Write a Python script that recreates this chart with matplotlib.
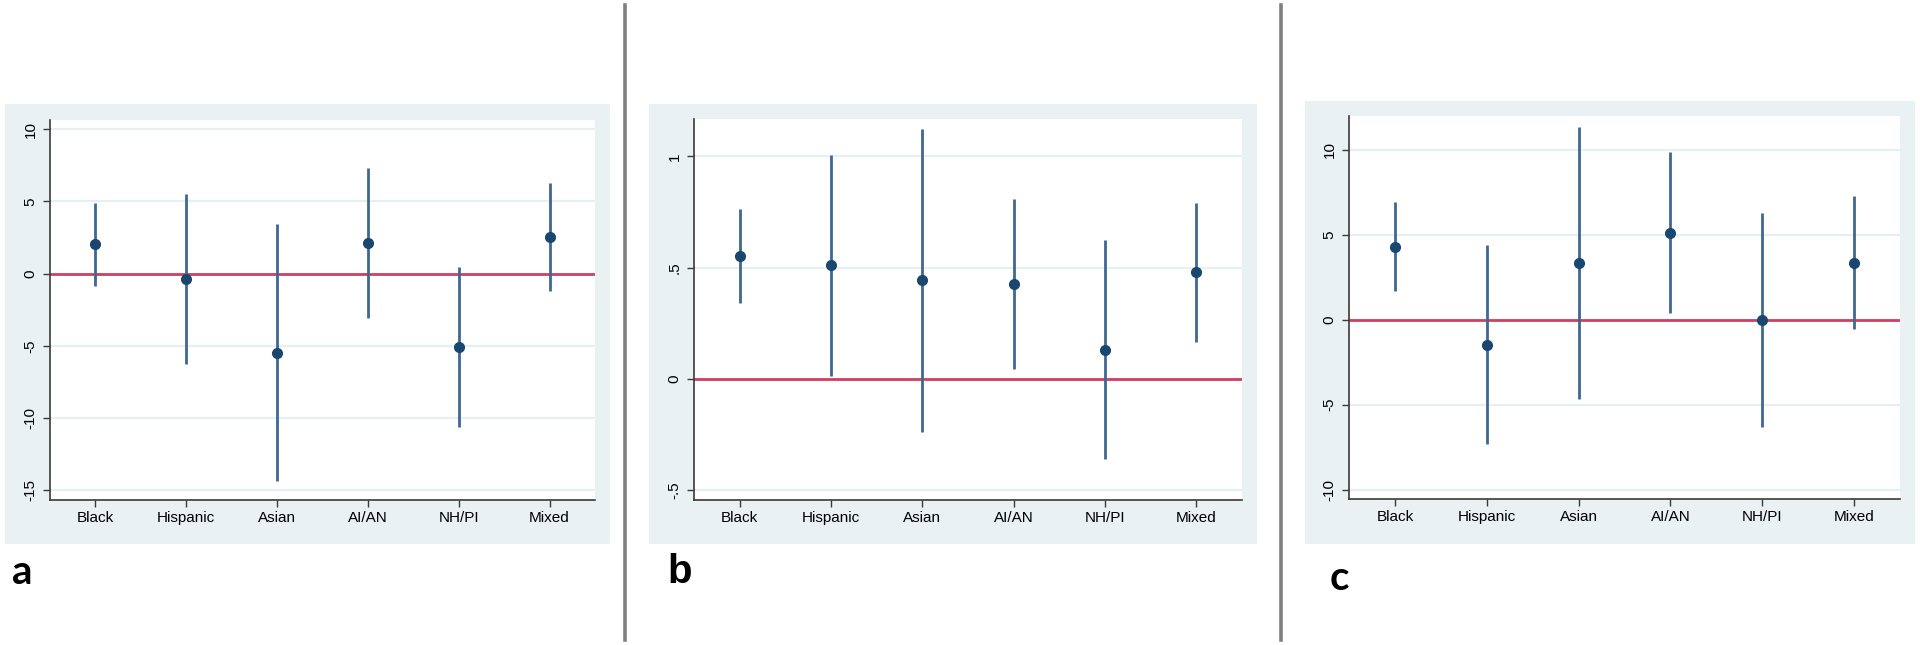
import matplotlib
matplotlib.use("Agg")
import matplotlib.pyplot as plt
from matplotlib.patches import Rectangle
from matplotlib.lines import Line2D

categories = ["Black", "Hispanic", "Asian", "AI/AN", "NH/PI", "Mixed"]

a_est = [2.06, -0.39, -5.47, 2.10, -5.05, 2.54]
a_lo = [-0.83, -6.25, -14.36, -3.09, -10.64, -1.20]
a_hi = [4.92, 5.50, 3.44, 7.30, 0.48, 6.26]
a_ticks = [-15, -10, -5, 0, 5, 10]
a_ticklabels = ["-15", "-10", "-5", "0", "5", "10"]

b_est = [0.551, 0.511, 0.443, 0.427, 0.132, 0.479]
b_lo = [0.340, 0.015, -0.237, 0.045, -0.361, 0.166]
b_hi = [0.762, 1.007, 1.124, 0.808, 0.623, 0.790]
b_ticks = [-0.5, 0, 0.5, 1]
b_ticklabels = ["-.5", "0", ".5", "1"]

c_est = [4.31, -1.47, 3.35, 5.14, 0.0, 3.37]
c_lo = [1.69, -7.31, -4.67, 0.43, -6.33, -0.55]
c_hi = [6.92, 4.43, 11.37, 9.88, 6.29, 7.29]
c_ticks = [-10, -5, 0, 5, 10]
c_ticklabels = ["-10", "-5", "0", "5", "10"]

panel_letters = ["a", "b", "c"]

W, H = 1920, 645
fig = plt.figure(figsize=(W / 100, H / 100), dpi=100)
fig.patch.set_facecolor("white")

BOX = "#E9F1F3"
GRID = "#E6EFF2"
NAVY = "#1A476F"
LINE = "#3F6890"
RED = "#D0405F"

panels = [
    dict(est=a_est, lo=a_lo, hi=a_hi, ticks=a_ticks, tl=a_ticklabels,
         box=(5, 610, 104, 544), plot=(50, 595, 120, 500), ylim=(-15.67, 10.64),
         letter=(22, 572), lfam="Lato"),
    dict(est=b_est, lo=b_lo, hi=b_hi, ticks=b_ticks, tl=b_ticklabels,
         box=(649, 1257, 104, 544), plot=(694, 1242, 119, 500), ylim=(-0.543, 1.1675),
         letter=(680, 572), lfam="Liberation Sans"),
    dict(est=c_est, lo=c_lo, hi=c_hi, ticks=c_ticks, tl=c_ticklabels,
         box=(1305, 1915, 101, 544), plot=(1349, 1900, 116, 499), ylim=(-10.55, 12.0),
         letter=(1339, 578), lfam="Lato"),
]

for p, letter in zip(panels, panel_letters):
    bx0, bx1, by0, by1 = p["box"]
    fig.patches.append(Rectangle((bx0 / W, 1 - by1 / H), (bx1 - bx0) / W, (by1 - by0) / H,
                                 transform=fig.transFigure, facecolor=BOX,
                                 edgecolor="none", zorder=-5))
    px0, px1, py0, py1 = p["plot"]
    ax = fig.add_axes([px0 / W, 1 - py1 / H, (px1 - px0) / W, (py1 - py0) / H])
    ax.set_zorder(1)
    ax.set_facecolor("white")
    x = list(range(1, len(categories) + 1))
    for t in p["ticks"]:
        ax.axhline(t, color=GRID, lw=1.6, zorder=1)
    ax.axhline(0, color=RED, lw=2.0, zorder=2)
    ax.vlines(x, p["lo"], p["hi"], color=LINE, lw=2.0, zorder=3)
    ax.plot(x, p["est"], "o", color=NAVY, ms=7, zorder=4)
    ax.set_xlim(0.5, 6.5)
    ax.set_ylim(*p["ylim"])
    ax.set_xticks(x)
    ax.set_xticklabels(categories, fontsize=11, family="Liberation Sans")
    ax.set_yticks(p["ticks"])
    ax.set_yticklabels(p["tl"], fontsize=11, family="Liberation Sans",
                       rotation=90, va="center")
    for s in ["top", "right"]:
        ax.spines[s].set_visible(False)
    for s in ["left", "bottom"]:
        ax.spines[s].set_color("#3a3a3a")
        ax.spines[s].set_linewidth(1.2)
    ax.tick_params(axis="both", direction="out", length=5, width=1.0,
                   color="#3a3a3a", labelcolor="black")
    ax.tick_params(axis="y", pad=4)
    ax.tick_params(axis="x", pad=3)
    lx, ly = p["letter"]
    fig.text(lx / W, 1 - ly / H, letter, fontsize=29, fontweight="bold",
             family=p["lfam"], ha="center", va="center")

for sx in [625, 1281]:
    fig.lines.append(Line2D([sx / W, sx / W], [1 - 5 / H, 1 - 640 / H],
                            transform=fig.transFigure, color="#808080", lw=2.6))

fig.savefig("out.png", dpi=100)
